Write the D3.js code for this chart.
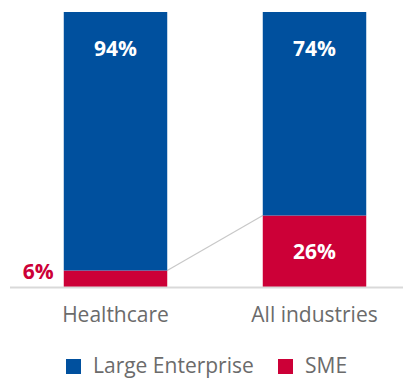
<!DOCTYPE html>
<html><head><meta charset="utf-8">
<script src="https://cdn.jsdelivr.net/npm/d3@7"></script>
<style>body{margin:0;background:#fff}svg{display:block}</style>
</head><body>
<svg id="c" width="403" height="378"></svg>
<script>
const categories = ["Healthcare", "All industries"];
const seriesNames = ["Large Enterprise", "SME"];
const largeEnterprise = [94, 74];
const sme = [6, 26];
const colors = ["#00509E", "#CC0037"];

const svg = d3.select("#c");
const font = "'Open Sans', sans-serif";
const baseY = 287, topY = 12;
const x = d3.scaleBand().domain(categories).range([16, 414]).paddingInner(0.48).paddingOuter(0.24);
const y = d3.scaleLinear().domain([0, 100]).range([baseY, topY]);

const rows = categories.map((c, i) => ({cat: c, sme: sme[i], le: largeEnterprise[i]}));

// connector line
svg.append("line")
  .attr("x1", x(categories[0]) + x.bandwidth()).attr("y1", y(sme[0]))
  .attr("x2", x(categories[1])).attr("y2", y(sme[1]))
  .attr("stroke", "#c8c8c8").attr("stroke-width", 1.2);

const g = svg.selectAll("g.bar").data(rows).join("g");
g.append("rect").attr("x", d => x(d.cat)).attr("width", x.bandwidth())
  .attr("y", d => y(d.sme)).attr("height", d => baseY - y(d.sme)).attr("fill", colors[1]);
g.append("rect").attr("x", d => x(d.cat)).attr("width", x.bandwidth())
  .attr("y", d => y(d.sme + d.le)).attr("height", d => y(d.sme) - y(d.sme + d.le)).attr("fill", colors[0]);

// axis line
svg.append("line").attr("x1", 10).attr("x2", 403).attr("y1", baseY + 0.5).attr("y2", baseY + 0.5)
  .attr("stroke", "#d9d9d9").attr("stroke-width", 2);

// value labels
g.append("text").attr("x", d => x(d.cat) + x.bandwidth() / 2).attr("y", 56)
  .attr("text-anchor", "middle").attr("fill", "#fff").attr("font-family", font)
  .attr("font-weight", 700).attr("font-size", 21).text(d => d.le + "%");
g.append("text")
  .attr("x", d => d.sme < 10 ? x(d.cat) - 10 : x(d.cat) + x.bandwidth() / 2)
  .attr("y", d => d.sme < 10 ? 279 : (y(d.sme) + baseY) / 2 + 7.5)
  .attr("text-anchor", d => d.sme < 10 ? "end" : "middle")
  .attr("fill", d => d.sme < 10 ? colors[1] : "#fff").attr("font-family", font)
  .attr("font-weight", 700).attr("font-size", 21).text(d => d.sme + "%");

// category axis labels
const xAxis = d3.axisBottom(x).tickSize(0).tickPadding(0);
const ax = svg.append("g").attr("transform", `translate(0,${baseY})`).call(xAxis);
ax.select(".domain").remove();
ax.selectAll("text").attr("dy", null).attr("y", 35).attr("font-family", font)
  .attr("font-size", 21).attr("fill", "#6b6b6b");

// legend
const legX = [66, 278];
const leg = svg.selectAll("g.leg").data(seriesNames).join("g")
  .attr("transform", (d, i) => `translate(${legX[i]},359)`);
leg.append("rect").attr("width", 15).attr("height", 15).attr("fill", (d, i) => colors[i]);
leg.append("text").attr("x", 27).attr("y", 14).attr("font-family", font)
  .attr("font-size", 21).attr("fill", "#6b6b6b").text(d => d);
</script>
</body></html>
